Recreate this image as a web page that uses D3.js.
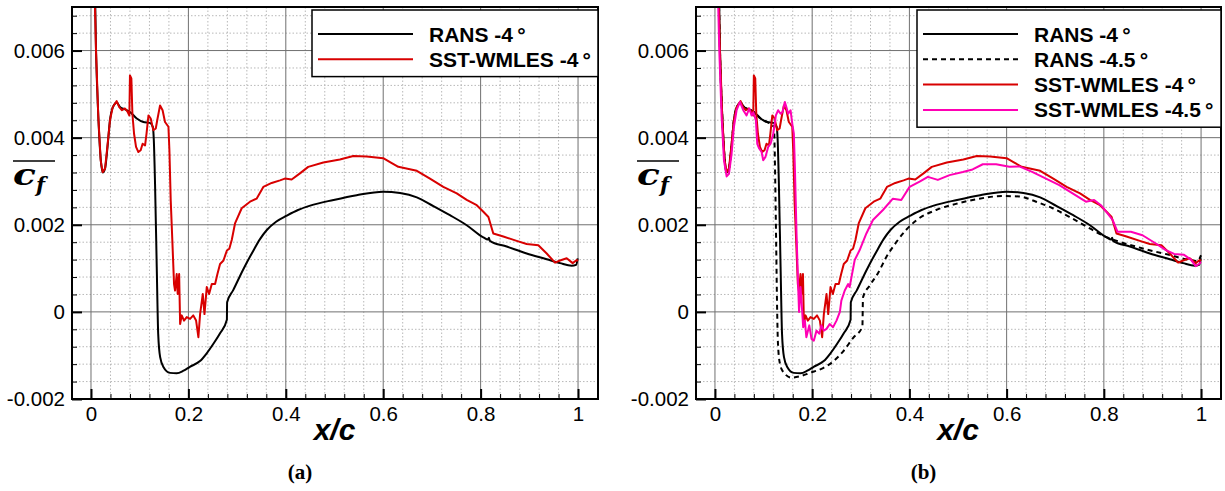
<!DOCTYPE html>
<html>
<head>
<meta charset="utf-8">
<script src="https://cdn.jsdelivr.net/npm/d3@7"></script>
<style>
  body { margin: 0; background: #fff; }
  svg { display: block; }
</style>
</head>
<body>
<svg id="chart" width="1225" height="491"></svg>
<script>
// ------- Data: [x/c, mean cf] -------

const rans4 = [
  [0.005, 0.0095], [0.0103, 0.006], [0.015, 0.0045], [0.02, 0.0035], [0.024, 0.0032],
  [0.029, 0.0033], [0.034, 0.0038], [0.039, 0.0044], [0.045, 0.0047], [0.053, 0.0048],
  [0.06, 0.0047], [0.07, 0.00465], [0.08, 0.00459], [0.094, 0.00444], [0.1075, 0.00436],
  [0.121, 0.00434], [0.127, 0.00425], [0.129, 0.00394], [0.1315, 0.00294], [0.135, 0.00103],
  [0.138, -0.00051], [0.142, -0.00104], [0.149, -0.00127], [0.162, -0.0014], [0.176, -0.00141],
  [0.19, -0.00135], [0.203, -0.00126], [0.2238, -0.00113], [0.2376, -0.00095], [0.252, -0.00072],
  [0.265, -0.00049], [0.279, -0.00018], [0.2795, 0.00022], [0.292, 0.0005], [0.3128, 0.00098],
  [0.333, 0.0014], [0.347, 0.00167], [0.361, 0.00188], [0.38, 0.00207], [0.402, 0.00221],
  [0.425, 0.00234], [0.45, 0.00244], [0.498, 0.00257], [0.5455, 0.00268], [0.6, 0.00276],
  [0.6345, 0.00273], [0.669, 0.00263], [0.703, 0.00243], [0.737, 0.00222], [0.7714, 0.00199],
  [0.8056, 0.00171], [0.815, 0.00166], [0.817, 0.0017], [0.819, 0.00163], [0.8535, 0.0015],
  [0.8946, 0.00134], [0.9357, 0.00121], [0.963, 0.00112], [0.987, 0.00106], [0.996, 0.00108],
  [0.9993, 0.00123]
];

const rans45 = [
  [0.005, 0.0095], [0.0103, 0.006], [0.015, 0.0045], [0.02, 0.0035], [0.024, 0.0032],
  [0.029, 0.0033], [0.034, 0.0038], [0.039, 0.0044], [0.045, 0.0047], [0.053, 0.0048],
  [0.06, 0.0047], [0.07, 0.00465], [0.08, 0.00459], [0.094, 0.00444], [0.107, 0.00436],
  [0.1212, 0.00425], [0.1225, 0.0039], [0.124, 0.003], [0.126, 0.0015], [0.128, 0.0],
  [0.1295, -0.0007], [0.1335, -0.00118], [0.14, -0.00137], [0.1575, -0.00151], [0.1745, -0.00148],
  [0.195, -0.0014], [0.2224, -0.00129], [0.243, -0.00114], [0.2635, -0.00091], [0.284, -0.0006],
  [0.3033, -0.00034], [0.3045, 0.00033], [0.318, 0.0006], [0.335, 0.00088], [0.3526, 0.00126],
  [0.373, 0.0016], [0.393, 0.00188], [0.414, 0.0021], [0.455, 0.00234], [0.503, 0.0025],
  [0.544, 0.0026], [0.592, 0.00266], [0.626, 0.00265], [0.6605, 0.00253], [0.6947, 0.00238],
  [0.729, 0.00218], [0.763, 0.00197], [0.797, 0.00176], [0.8316, 0.00161], [0.866, 0.0015],
  [0.9, 0.0014], [0.934, 0.00131], [0.9685, 0.00121], [0.9925, 0.00117], [1.0, 0.0013]
];

const wmles4 = [
  [0.004, 0.0095], [0.0082, 0.007], [0.0103, 0.006], [0.015, 0.00448], [0.0199, 0.00348],
  [0.024, 0.00321], [0.0288, 0.00329], [0.0336, 0.00379], [0.039, 0.0044], [0.0445, 0.0047],
  [0.0527, 0.00484], [0.058, 0.0047], [0.0637, 0.00463], [0.0699, 0.00467], [0.0753, 0.00459],
  [0.0788, 0.00451], [0.08, 0.00543], [0.0829, 0.00536], [0.085, 0.00455], [0.0884, 0.00409],
  [0.0925, 0.00379], [0.0973, 0.00367], [0.102, 0.00371], [0.106, 0.00386], [0.111, 0.00382],
  [0.114, 0.00409], [0.118, 0.00451], [0.1226, 0.00444], [0.128, 0.00417], [0.133, 0.00421],
  [0.136, 0.0044], [0.1418, 0.00474], [0.147, 0.00463], [0.152, 0.00436], [0.159, 0.00425],
  [0.161, 0.00371], [0.1637, 0.00256], [0.167, 0.00164], [0.1705, 0.00064], [0.1726, 0.00049],
  [0.176, 0.00087], [0.178, 0.00041], [0.181, 0.00087], [0.183, -0.00028], [0.1863, -0.00008],
  [0.191, -0.0002], [0.1966, -0.00012], [0.2034, -0.00016], [0.21, -0.00008], [0.2158, -0.0002],
  [0.2205, -0.00058], [0.224, -0.00005], [0.2295, 0.00041], [0.233, -0.00005], [0.2377, 0.00057],
  [0.2425, 0.00041], [0.248, 0.00064], [0.2548, 0.00064], [0.2596, 0.00087], [0.265, 0.0011],
  [0.272, 0.00118], [0.279, 0.00141], [0.284, 0.00145], [0.289, 0.00165], [0.2957, 0.00203],
  [0.3094, 0.00238], [0.3265, 0.00253], [0.34, 0.0026], [0.3538, 0.00287], [0.371, 0.00296],
  [0.388, 0.00302], [0.398, 0.00306], [0.412, 0.00304], [0.429, 0.00318], [0.446, 0.00333],
  [0.477, 0.00343], [0.511, 0.0035], [0.5386, 0.00358], [0.566, 0.00357], [0.6, 0.00353],
  [0.614, 0.00344], [0.631, 0.00333], [0.669, 0.00324], [0.696, 0.00306], [0.7234, 0.00287],
  [0.751, 0.00272], [0.7714, 0.00257], [0.792, 0.00245], [0.8056, 0.0023], [0.816, 0.00218],
  [0.826, 0.0018], [0.8466, 0.00173], [0.874, 0.00163], [0.8946, 0.00156], [0.9185, 0.00153],
  [0.9357, 0.00134], [0.9528, 0.00113], [0.963, 0.00118], [0.9767, 0.00123], [0.989, 0.00112],
  [0.9973, 0.00119], [1.0, 0.00117]
];

const wmles45 = [
  [0.005, 0.0095], [0.0068, 0.007], [0.0089, 0.006], [0.0137, 0.00448], [0.0185, 0.00348],
  [0.024, 0.00311], [0.0288, 0.00317], [0.0342, 0.00363], [0.039, 0.00425], [0.0445, 0.00463],
  [0.0514, 0.00482], [0.0582, 0.00463], [0.065, 0.00451], [0.0705, 0.00467], [0.0753, 0.00451],
  [0.079, 0.00458], [0.0842, 0.0044], [0.087, 0.00386], [0.091, 0.00375], [0.0959, 0.00367],
  [0.0993, 0.00348], [0.104, 0.00356], [0.1096, 0.00379], [0.1144, 0.00386], [0.1199, 0.00409],
  [0.1253, 0.00451], [0.13, 0.00463], [0.135, 0.00455], [0.139, 0.00459], [0.1438, 0.00482],
  [0.147, 0.0047], [0.1507, 0.00455], [0.1555, 0.00463], [0.159, 0.00432], [0.1623, 0.00409],
  [0.1644, 0.00333], [0.1678, 0.0018], [0.1712, 0.00057], [0.173, 0.0], [0.176, 0.00057],
  [0.178, 0.00026], [0.1815, -0.00035], [0.185, -0.0002], [0.188, -0.00058], [0.194, -0.00031],
  [0.1986, -0.00062], [0.2034, -0.00066], [0.2089, -0.00043], [0.2144, -0.0005], [0.219, -0.00031],
  [0.224, -0.00043], [0.2295, -0.00039], [0.236, -0.00028], [0.243, -0.00035], [0.25, -0.0002],
  [0.257, 0.0], [0.26, 0.00026], [0.267, 0.00049], [0.274, 0.00064], [0.277, 0.00057],
  [0.2875, 0.00119], [0.2977, 0.00142], [0.3115, 0.0018], [0.325, 0.00211], [0.3456, 0.00234],
  [0.366, 0.0026], [0.3833, 0.00257], [0.4004, 0.00287], [0.421, 0.00299], [0.438, 0.0031],
  [0.4585, 0.00303], [0.4825, 0.00314], [0.51, 0.00321], [0.53, 0.00327], [0.551, 0.00339],
  [0.5784, 0.00339], [0.6057, 0.00333], [0.626, 0.00334], [0.6536, 0.00321], [0.681, 0.00306],
  [0.7084, 0.00291], [0.7357, 0.00272], [0.763, 0.00253], [0.78, 0.00257], [0.794, 0.00245],
  [0.8077, 0.00226], [0.818, 0.00211], [0.828, 0.00184], [0.8556, 0.00184], [0.8795, 0.00176],
  [0.907, 0.00157], [0.9275, 0.00142], [0.9446, 0.00133], [0.965, 0.00131], [0.979, 0.0012],
  [0.989, 0.00105], [0.996, 0.0011], [1.0, 0.00115]
];

const xTicks = [0, 0.2, 0.4, 0.6, 0.8, 1];
const yTicks = [-0.002, 0, 0.002, 0.004, 0.006];
const xTickLabels = ["0", "0.2", "0.4", "0.6", "0.8", "1"];
const yTickLabels = ["-0.002", "0", "0.002", "0.004", "0.006"];

const seriesStyle = {
  rans4: { name: "RANS -4\u2009°", data: rans4, color: "#000000", dash: null, smooth: true },
  rans45: { name: "RANS -4.5\u2009°", data: rans45, color: "#000000", dash: "5,4", smooth: true },
  wmles4: { name: "SST-WMLES -4\u2009°", data: wmles4, color: "#d80000", dash: null, smooth: false },
  wmles45: { name: "SST-WMLES -4.5\u2009°", data: wmles45, color: "#ff00b4", dash: null, smooth: false },
};

const panels = [
  { tag: "(a)", left: 72, right: 598, series: ["rans4", "wmles4"], legendLeft: 312 },
  { tag: "(b)", left: 696, right: 1221, series: ["rans4", "rans45", "wmles4", "wmles45"], legendLeft: 917 },
];

// ------- Layout -------

const plotTop = 7;
const plotBottom = 399;
const xDomain = [-0.039, 1.041];
const yDomain = [-0.002, 0.007];
const sansFont = "'Liberation Sans', Arial, Helvetica, sans-serif";

const svg = d3.select("#chart");

function nearTick(v, ticks) {
  return ticks.some((t) => Math.abs(t - v) < 1e-9);
}

const xMinor = d3.range(-0.04, 1.0401, 0.04)
  .map((v) => +v.toFixed(4))
  .filter((v) => !nearTick(v, xTicks));
const yMinor = d3.range(-0.002, 0.00701, 0.0004)
  .map((v) => +v.toFixed(6))
  .filter((v) => !nearTick(v, yTicks));

panels.forEach((p, i) => {
  const x = d3.scaleLinear().domain(xDomain).range([p.left, p.right]);
  const y = d3.scaleLinear().domain(yDomain).range([plotBottom, plotTop]);

  const g = svg.append("g");

  const clipId = "clip" + i;
  svg.append("clipPath").attr("id", clipId)
    .append("rect")
    .attr("x", p.left).attr("y", plotTop)
    .attr("width", p.right - p.left).attr("height", plotBottom - plotTop);

  // minor grid (dotted)
  const grid = g.append("g").attr("clip-path", `url(#${clipId})`);
  grid.selectAll("line.xminor").data(xMinor).join("line")
    .attr("x1", (d) => x(d)).attr("x2", (d) => x(d))
    .attr("y1", plotTop).attr("y2", plotBottom)
    .attr("stroke", "#b8b8b8").attr("stroke-width", 1)
    .attr("stroke-dasharray", "1.5,2");
  grid.selectAll("line.yminor").data(yMinor).join("line")
    .attr("x1", p.left).attr("x2", p.right)
    .attr("y1", (d) => y(d)).attr("y2", (d) => y(d))
    .attr("stroke", "#b8b8b8").attr("stroke-width", 1)
    .attr("stroke-dasharray", "1.5,2");

  // major grid (solid gray)
  grid.selectAll("line.xmajor").data(xTicks).join("line")
    .attr("x1", (d) => x(d)).attr("x2", (d) => x(d))
    .attr("y1", plotTop).attr("y2", plotBottom)
    .attr("stroke", "#707070").attr("stroke-width", 1);
  grid.selectAll("line.ymajor").data(yTicks).join("line")
    .attr("x1", p.left).attr("x2", p.right)
    .attr("y1", (d) => y(d)).attr("y2", (d) => y(d))
    .attr("stroke", "#707070").attr("stroke-width", 1);

  // curves (RANS curves are smooth, LES curves are drawn as raw polylines)
  const curves = g.append("g").attr("clip-path", `url(#${clipId})`);
  p.series.forEach((key) => {
    const s = seriesStyle[key];
    const line = d3.line()
      .x((d) => x(d[0])).y((d) => y(d[1]))
      .curve(s.smooth ? d3.curveMonotoneX : d3.curveLinear);
    curves.append("path")
      .datum(s.data)
      .attr("d", line)
      .attr("fill", "none")
      .attr("stroke", s.color)
      .attr("stroke-width", 2)
      .attr("stroke-linejoin", "round")
      .attr("stroke-dasharray", s.dash);
  });

  // axes: major ticks point inward, minor ticks shorter
  const xAxis = d3.axisBottom(x).tickValues(xTicks)
    .tickFormat((d, k) => xTickLabels[k]).tickSize(-10).tickPadding(7);
  const xAxisMinor = d3.axisBottom(x).tickValues(xMinor.filter((v) => v > -0.03 && v < 1.03))
    .tickFormat("").tickSize(-5);
  const yAxis = d3.axisLeft(y).tickValues(yTicks)
    .tickFormat((d, k) => yTickLabels[k]).tickSize(-10).tickPadding(7);
  const yAxisMinor = d3.axisLeft(y).tickValues(yMinor).tickFormat("").tickSize(-5);

  [
    [xAxis, `translate(0,${plotBottom})`, 2],
    [xAxisMinor, `translate(0,${plotBottom})`, 1],
    [yAxis, `translate(${p.left},0)`, 2],
    [yAxisMinor, `translate(${p.left},0)`, 1],
  ].forEach(([ax, tr, w]) => {
    const a = g.append("g").attr("transform", tr).call(ax);
    a.select(".domain").remove();
    a.selectAll(".tick line").attr("stroke", "#000").attr("stroke-width", w);
    a.selectAll(".tick text")
      .attr("fill", "#000")
      .style("font-family", sansFont)
      .style("font-size", "20.5px");
  });

  // frame
  g.append("rect")
    .attr("x", p.left).attr("y", plotTop)
    .attr("width", p.right - p.left).attr("height", plotBottom - plotTop)
    .attr("fill", "none").attr("stroke", "#000").attr("stroke-width", 2);

  // legend
  const rowH = 25.3;
  const lg = g.append("g");
  lg.append("rect")
    .attr("x", p.legendLeft).attr("y", 10)
    .attr("width", p.right - p.legendLeft)
    .attr("height", 16 + rowH * p.series.length)
    .attr("fill", "#fff").attr("stroke", "#000").attr("stroke-width", 1.5);
  p.series.forEach((key, k) => {
    const s = seriesStyle[key];
    const ry = 34 + k * rowH;
    lg.append("line")
      .attr("x1", p.legendLeft + 6).attr("x2", p.legendLeft + 101)
      .attr("y1", ry).attr("y2", ry)
      .attr("stroke", s.color).attr("stroke-width", 2)
      .attr("stroke-dasharray", s.dash);
    lg.append("text")
      .attr("x", p.legendLeft + 117).attr("y", ry + 7.5)
      .style("font-family", sansFont).style("font-weight", "bold")
      .style("font-size", "21px")
      .text(s.name);
  });

  // y label: overline c_f
  const yl = g.append("g").attr("transform", `translate(${p.left - 59},0)`);
  yl.append("text")
    .attr("x", 0).attr("y", 185)
    .attr("transform", "scale(1.25,1)")
    .style("font-family", "'DejaVu Serif', serif")
    .style("font-weight", "bold").style("font-style", "italic")
    .style("font-size", "30px")
    .text("c");
  yl.append("text")
    .attr("x", 23).attr("y", 192)
    .style("font-family", "'DejaVu Serif', serif")
    .style("font-weight", "bold").style("font-style", "italic")
    .style("font-size", "21px")
    .text("f");
  yl.append("line")
    .attr("x1", 0).attr("x2", 42).attr("y1", 161).attr("y2", 161)
    .attr("stroke", "#000").attr("stroke-width", 1.5);

  // x label
  g.append("text")
    .attr("x", x(0.5)).attr("y", 440)
    .attr("text-anchor", "middle")
    .style("font-family", sansFont).style("font-weight", "bold")
    .style("font-style", "italic").style("font-size", "30px")
    .text("x/c");

  // panel tag
  g.append("text")
    .attr("x", (p.left + p.right) / 2 - 35).attr("y", 479)
    .attr("text-anchor", "middle")
    .style("font-family", "'Liberation Serif', 'Times New Roman', serif")
    .style("font-weight", "bold").style("font-size", "21px")
    .text(p.tag);
});
</script>
</body>
</html>
